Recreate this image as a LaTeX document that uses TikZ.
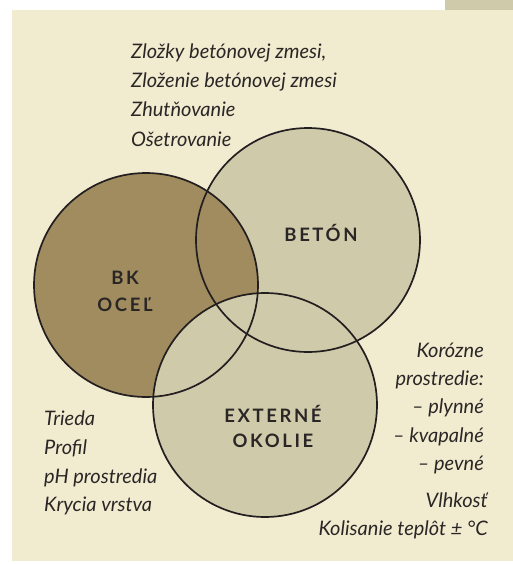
\documentclass[tikz,border=0pt]{standalone}
\usepackage{fontspec}
\setmainfont{Lato}
\newfontfamily\capsfont{Lato}[LetterSpace=14]
\definecolor{panelcol}{HTML}{F1ECD0}
\definecolor{lightcol}{HTML}{CFCAAA}
\definecolor{darkcol}{HTML}{A08C5E}
\definecolor{linecol}{HTML}{231F20}
\definecolor{textcol}{HTML}{2A2626}
\begin{document}
\begin{tikzpicture}[x=1pt,y=-1pt,
  ring/.style={draw=linecol, line width=1.7pt},
  note/.style={font=\fontsize{20}{24}\selectfont\itshape, text=textcol, inner sep=0pt},
  caption/.style={font=\fontsize{18.5}{24}\selectfont\capsfont\bfseries, text=textcol, inner sep=0pt, anchor=base}]
  \pgfmathsetmacro{\radius}{112}
  \useasboundingbox (0,0) rectangle (513,564);
  \fill[panelcol] (12,10) rectangle (513,561);
  \fill[lightcol] (445,0) rectangle (513,10);
  % circles: fill first, outlines on top
  \coordinate (cbeton) at (308,240);
  \coordinate (cocel) at (146,285);
  \coordinate (cokolie) at (265,405);
  \fill[lightcol] (cbeton) circle[radius=\radius];
  \fill[darkcol] (cocel) circle[radius=\radius];
  \fill[lightcol] (cokolie) circle[radius=\radius];
  \foreach \c in {cbeton,cocel,cokolie} {%
    \draw[ring] (\c) circle[radius=\radius];
  }
  % labels
  \node[caption] (beton) at (321,241) {BETÓN};
  \node[caption] (bk) at (125,284) {BK};
  \node[caption] (ocel) at (125,311) {OCEĽ};
  \node[caption] (externe) at (273,422) {EXTERNÉ};
  \node[caption] (okolie) at (273,447) {OKOLIE};
  % notes
  \foreach \t [count=\i] in {{Zložky betónovej zmesi,},Zloženie betónovej zmesi,Zhutňovanie,Ošetrovanie} {%
    \node[note, anchor=base west] (mix\i) at (131,{29.3*\i+29}) {\t};
  }
  \foreach \t [count=\i] in {Trieda,Profil,pH prostredia,Krycia vrstva} {%
    \node[note, anchor=base west] (steel\i) at (44,{28.7*\i+397}) {\t};
  }
  \foreach \t [count=\i] in {Korózne,prostredie:,– plynné,– kvapalné,– pevné} {%
    \node[note, anchor=base east] (env\i) at (484,{28.3*\i+329}) {\t};
  }
  \node[note, anchor=base east] (humid) at (488,507) {Vlhkosť};
  \node[note, anchor=base east] (temp) at (488,535) {Kolisanie teplôt ± °C};
\end{tikzpicture}
\end{document}
